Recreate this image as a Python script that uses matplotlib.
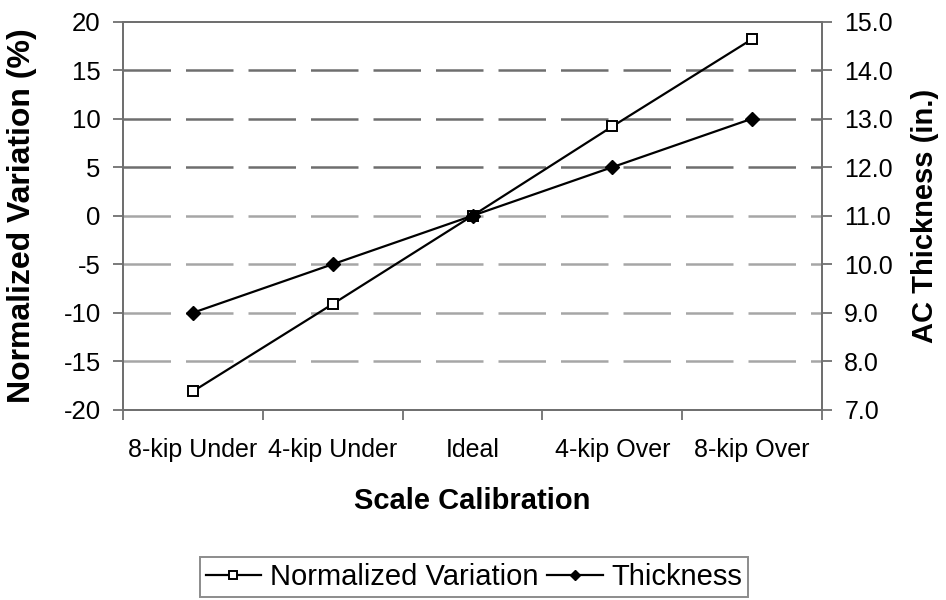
import matplotlib
matplotlib.use("Agg")
import matplotlib.pyplot as plt
import numpy as np

plt.rcParams['font.family'] = ['Liberation Sans', 'DejaVu Sans']
plt.rcParams['axes.unicode_minus'] = False

# Data
categories = ["8-kip Under", "4-kip Under", "Ideal", "4-kip Over", "8-kip Over"]
normalized_variation = [-18.1, -9.1, 0.0, 9.2, 18.2]
thickness = [9.0, 10.0, 11.0, 12.0, 13.0]

fig = plt.figure(figsize=(9.46, 6.0), dpi=100)
ax = fig.add_axes([0.130, 0.317, 0.739, 0.647])
ax2 = ax.twinx()

x = np.arange(len(categories))
l1, = ax.plot(x, normalized_variation, color='black', lw=1.6, marker='s', ms=7.5,
              mfc='white', mec='black', mew=1.4, label="Normalized Variation", zorder=3)
l2, = ax2.plot(x, thickness, color='black', lw=1.6, marker='D', ms=7,
               mfc='black', mec='black', label="Thickness", zorder=3)

ax.set_xlim(-0.5, len(categories) - 0.5)
ax.set_ylim(-20, 20)
ax.set_yticks(np.arange(-20, 21, 5))
ax2.set_ylim(7, 15)
ax2.set_yticks(np.arange(7, 15.1, 1))
ax2.set_yticklabels([f"{v:.1f}" for v in np.arange(7, 15.1, 1)])

# category labels centred, ticks on bin edges
ax.set_xticks(np.arange(len(categories) + 1) - 0.5)
ax.set_xticklabels([])
ax.set_xticks(x, minor=True)
ax.set_xticklabels(categories, minor=True)
ax.tick_params(axis='x', which='minor', length=0, pad=20, labelsize=18)
ax.tick_params(axis='x', which='major', length=7, width=1.3, color='#707070')
ax.tick_params(axis='y', length=7, width=1.3, color='#707070', labelsize=18.5, pad=9)
ax2.tick_params(axis='y', length=7, width=1.3, color='#707070', labelsize=18, pad=9)

# dashed grid, upper lines look darker in the reference
for yv in np.arange(-15, 16, 5):
    c = '#6e6e6e' if yv > 0 else '#a6a6a6'
    ax.axhline(yv, color=c, lw=1.8, dashes=(19, 6), zorder=1)

for a in (ax, ax2):
    for s in a.spines.values():
        s.set_color('#707070')
        s.set_linewidth(1.4)

ax.set_xlabel("Scale Calibration", fontsize=21, fontweight='bold')
ax.xaxis.set_label_coords(0.5, -0.20)
ax.set_ylabel("Normalized Variation (%)", fontsize=23, fontweight='bold')
ax.yaxis.set_label_coords(-0.123, 0.5)
ax2.set_ylabel("AC Thickness (in.)", fontsize=21, fontweight='bold')
ax2.yaxis.set_label_coords(1.127, 0.5)

leg = fig.legend(handles=[l1, l2], loc='center', bbox_to_anchor=(0.501, 0.038), ncol=2,
                 fontsize=21, frameon=True, fancybox=False, edgecolor='#707070',
                 handlelength=1.9, handletextpad=0.3, columnspacing=0.3,
                 borderpad=0.2, borderaxespad=0, markerscale=0.75)
leg.get_frame().set_linewidth(1.4)

fig.savefig("out.png", dpi=100)
